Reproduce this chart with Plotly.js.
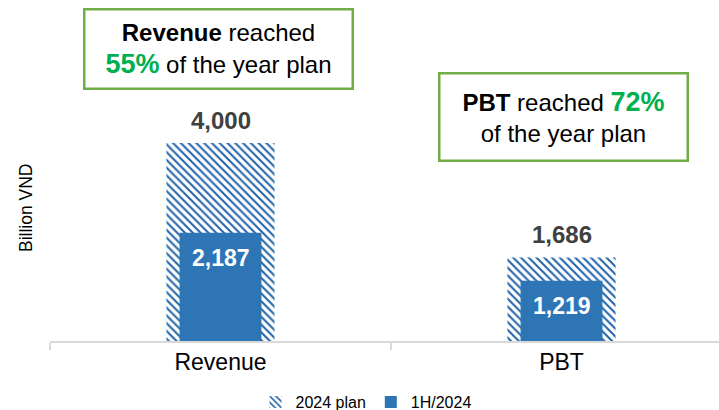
<!DOCTYPE html>
<html>
<head>
<meta charset="utf-8">
<script src="https://cdn.plot.ly/plotly-3.0.1.min.js"></script>
<style>html,body{margin:0;padding:0;background:#fff;}#chart{width:719px;height:410px;}</style>
</head>
<body>
<div id="chart"></div>
<script>
// ---- data ----
const categories = ["Revenue", "PBT"];
const planValues = [4000, 1686];      // 2024 plan
const actualValues = [2187, 1219];    // 1H/2024
const planName = "2024 plan";
const actualName = "1H/2024";
const yTitle = "Billion VND";

const FONT = '"Liberation Sans", Arial, sans-serif';
const BLUE = '#2E75B6';
const fmt = v => v.toLocaleString('en-US');
const pct = i => Math.round(actualValues[i] / planValues[i] * 100) + '%';

const W = 719, H = 410, mL = 50, mR = 0, mT = 20, mB = 69;
const plotW = W - mL - mR, plotH = H - mT - mB;
const px2x = p => (p - mL) / plotW;
const py2y = p => (H - mB - p) / plotH;

const traces = [
  {
    type: 'bar', name: planName, x: categories, y: planValues,
    width: 0.317,
    marker: { color: 'white', line: { width: 0 },
      pattern: { shape: '\\', fgcolor: '#2466A8', bgcolor: 'white', size: 5.5, solidity: 0.38 } },
    hoverinfo: 'skip'
  },
  {
    type: 'bar', name: actualName, x: categories, y: actualValues,
    width: 0.24,
    marker: { color: BLUE, line: { width: 0 } },
    hoverinfo: 'skip'
  }
];

const annotations = [];
categories.forEach((c, i) => {
  annotations.push({ x: c, y: planValues[i], xref: 'x', yref: 'y', text: '<b>' + fmt(planValues[i]) + '</b>',
    showarrow: false, yanchor: 'middle', yshift: 23, font: { family: FONT, size: 24, color: '#404040' } });
  annotations.push({ x: c, y: actualValues[i], xref: 'x', yref: 'y', text: '<b>' + fmt(actualValues[i]) + '</b>',
    showarrow: false, yanchor: 'middle', yshift: -25, font: { family: FONT, size: 23, color: '#ffffff' } });
});
const GREEN = '#00B050';
annotations.push({
  xref: 'paper', yref: 'paper', x: px2x(218), y: py2y(49.5), xanchor: 'center', yanchor: 'middle',
  text: '<b>' + categories[0] + '</b> reached<br><span style="color:' + GREEN + ';font-size:27px"><b>' + pct(0) + '</b></span> of the year plan',
  showarrow: false, align: 'center', valign: 'middle', width: 266, height: 77,
  bordercolor: '#70AD47', borderwidth: 2.5, borderpad: 0, bgcolor: 'white',
  font: { family: FONT, size: 24, color: '#000' }
});
annotations.push({
  xref: 'paper', yref: 'paper', x: px2x(563), y: py2y(116.5), xanchor: 'center', yanchor: 'middle',
  text: '<b>' + categories[1] + '</b> reached <span style="color:' + GREEN + ';font-size:27px"><b>' + pct(1) + '</b></span><br>of the year plan',
  showarrow: false, align: 'center', valign: 'middle', width: 246, height: 85,
  bordercolor: '#70AD47', borderwidth: 2.5, borderpad: 0, bgcolor: 'white',
  font: { family: FONT, size: 24, color: '#000' }
});
annotations.push({
  xref: 'paper', yref: 'paper', x: px2x(26), y: py2y(208), xanchor: 'center', yanchor: 'middle',
  text: yTitle, textangle: -90, showarrow: false, font: { family: FONT, size: 17.5, color: '#000' }
});

const layout = {
  width: W, height: H,
  margin: { l: mL, r: mR, t: mT, b: mB, autoexpand: false },
  paper_bgcolor: 'white', plot_bgcolor: 'white',
  barmode: 'overlay',
  font: { family: FONT, color: '#000' },
  xaxis: {
    type: 'category', range: [-0.5, -0.5 + plotW / 341],
    showline: true, linecolor: '#d9d9d9', linewidth: 1.5,
    ticks: 'outside', tickson: 'boundaries', ticklen: 7, tickcolor: '#d9d9d9', tickwidth: 1.5,
    tickfont: { family: FONT, size: 23, color: '#000' },
    showgrid: false, zeroline: false, layer: 'below traces', fixedrange: true, automargin: false
  },
  yaxis: {
    range: [0, plotH / 0.0495],
    showticklabels: false, showgrid: false, zeroline: false, showline: false, ticks: '', fixedrange: true, automargin: false
  },
  showlegend: true,
  legend: {
    orientation: 'h', x: px2x(366), y: py2y(402), xanchor: 'center', yanchor: 'middle',
    font: { family: FONT, size: 16, color: '#000' }, traceorder: 'normal', itemclick: false
  },
  annotations: annotations
};

Plotly.newPlot('chart', traces, layout, { displayModeBar: false, staticPlot: true });
</script>
</body>
</html>
